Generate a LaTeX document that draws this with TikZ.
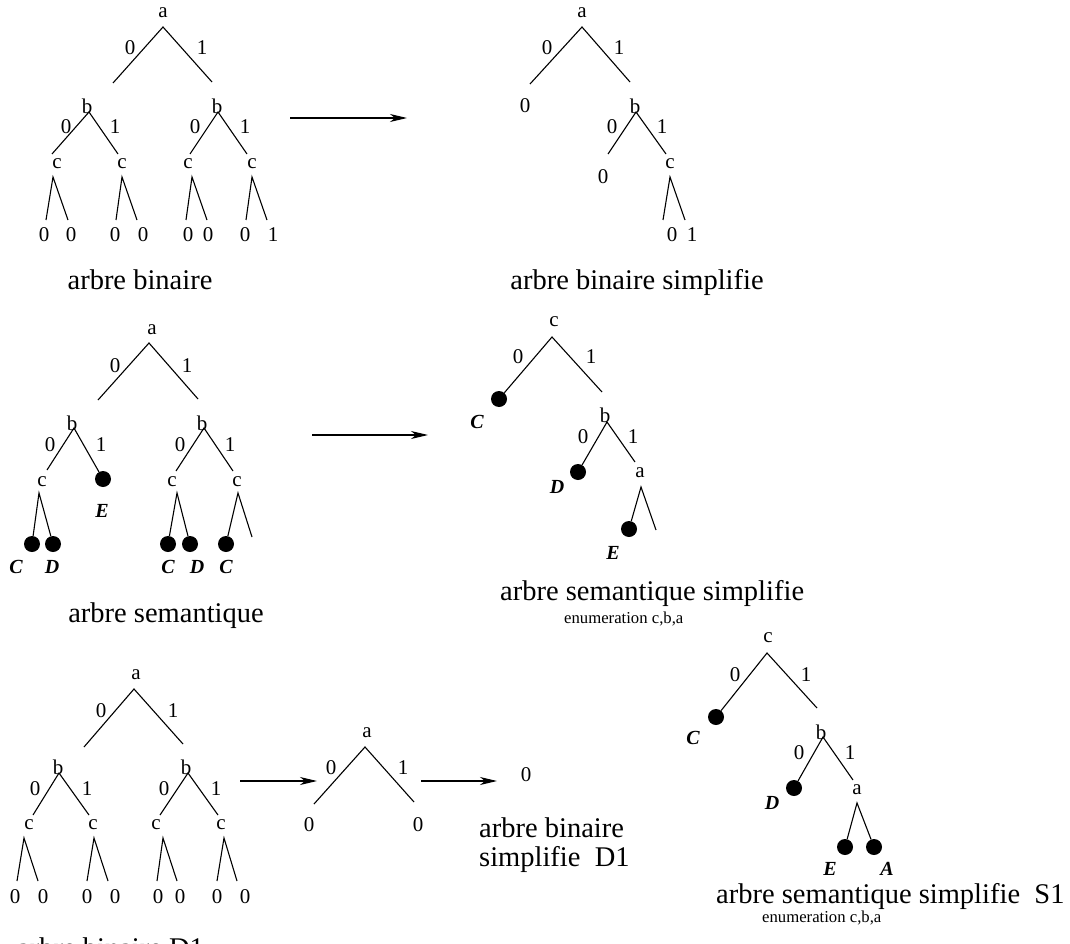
\documentclass[tikz,border=0pt]{standalone}
\usepackage{fontspec}
\setmainfont{Liberation Serif}
\usetikzlibrary{arrows.meta}
\tikzset{
  lbl/.style={inner sep=0pt,font=\fontsize{21}{24}\selectfont},
  captxt/.style={inner sep=0pt,font=\fontsize{28.5}{34}\selectfont},
  note/.style={inner sep=0pt,font=\fontsize{16.7}{20}\selectfont},
  atom/.style={inner sep=0pt,font=\fontsize{20}{22}\selectfont\bfseries\itshape},
  dot/.style={circle,fill=black,inner sep=0pt,minimum size=16pt},
  branch/.style={line width=1.1pt},
  arrow/.style={line width=1.1pt,-{Stealth[length=17pt,width=8pt,inset=5pt]}}
}

\begin{document}
\begin{tikzpicture}[x=1pt,y=-1pt]
	\useasboundingbox (0,0) rectangle (1070,944);
	
	% Tree 1 : arbre binaire
	\node[lbl] (t1a) at (163,13) {a};
	\coordinate (t1at) at (163,27);
	\coordinate (t1al) at (113,83);
	\coordinate (t1ar) at (212,82);
	\draw[branch] (t1al) -- (t1at) -- (t1ar);
	\node[lbl] (t1az) at (130,48) {0};
	\node[lbl] (t1ao) at (202,48) {1};
	\foreach \i/\x/\px/\lx/\rx/\zx/\ox in {1/87/89/52/118/66/115, 2/217/218/190/247/195/245}{
		\node[lbl] (t1b\i) at (\x,106) {b};
		\coordinate (t1bt\i) at (\px,112);
		\coordinate (t1bl\i) at (\lx,154);
		\coordinate (t1br\i) at (\rx,154);
		\draw[branch] (t1bl\i) -- (t1bt\i) -- (t1br\i);
		\node[lbl] (t1bz\i) at (\zx,127) {0};
		\node[lbl] (t1bo\i) at (\ox,127) {1};
	}
	\foreach \i/\x/\px/\lx/\rx in {1/57/53/46/68, 2/122/122/116/137, 3/188/192/186/207, 4/252/252/246/267}{
		\node[lbl] (t1c\i) at (\x,164) {c};
		\coordinate (t1ct\i) at (\px,177);
		\coordinate (t1cl\i) at (\lx,220);
		\coordinate (t1cr\i) at (\rx,220);
		\draw[branch] (t1cl\i) -- (t1ct\i) -- (t1cr\i);
	}
	\foreach \i/\x/\t in {1/44/0, 2/71/0, 3/115/0, 4/143/0, 5/188/0, 6/208/0, 7/245/0, 8/273/1}
		\node[lbl] (t1f\i) at (\x,235) {\t};
	\node[captxt,anchor=base] (t1cap) at (140,289) {arbre binaire};
	
	% Arrow 1
	\coordinate (ar1s) at (290,118);
	\coordinate (ar1e) at (407,118);
	\draw[arrow] (ar1s) -- (ar1e);
	
	% Tree 2 : arbre binaire simplifie
	\node[lbl] (t2a) at (582,13) {a};
	\coordinate (t2at) at (582,27);
	\coordinate (t2al) at (530,84);
	\coordinate (t2ar) at (630,82);
	\draw[branch] (t2al) -- (t2at) -- (t2ar);
	\node[lbl] (t2az) at (547,48) {0};
	\node[lbl] (t2ao) at (619,48) {1};
	\node[lbl] (t2f1) at (525,106) {0};
	\node[lbl] (t2b) at (635,106) {b};
	\coordinate (t2bt) at (636,112);
	\coordinate (t2bl) at (608,154);
	\coordinate (t2br) at (666,154);
	\draw[branch] (t2bl) -- (t2bt) -- (t2br);
	\node[lbl] (t2bz) at (612,127) {0};
	\node[lbl] (t2bo) at (662,127) {1};
	\node[lbl] (t2f2) at (603,177) {0};
	\node[lbl] (t2c) at (670,164) {c};
	\coordinate (t2ct) at (670,177);
	\coordinate (t2cl) at (663,220);
	\coordinate (t2cr) at (685,220);
	\draw[branch] (t2cl) -- (t2ct) -- (t2cr);
	\node[lbl] (t2f3) at (672,235) {0};
	\node[lbl] (t2f4) at (692,235) {1};
	\node[captxt,anchor=base] (t2cap) at (637,289) {arbre binaire simplifie};
	
	% Tree 3 : arbre semantique
	\node[lbl] (t3a) at (152,330) {a};
	\coordinate (t3at) at (149,343);
	\coordinate (t3al) at (98,400);
	\coordinate (t3ar) at (198,399);
	\draw[branch] (t3al) -- (t3at) -- (t3ar);
	\node[lbl] (t3az) at (115,366) {0};
	\node[lbl] (t3ao) at (187,366) {1};
	% left b
	\node[lbl] (t3b1) at (72,423) {b};
	\coordinate (t3bt1) at (74,428);
	\coordinate (t3bl1) at (47,470);
	\node[dot] (t3E) at (103,479) {};
	\draw[branch] (t3bl1) -- (t3bt1) -- (t3E);
	\node[lbl] (t3bz1) at (50,445) {0};
	\node[lbl] (t3bo1) at (101,445) {1};
	\node[atom] (t3Et) at (102,511) {E};
	% right b
	\node[lbl] (t3b2) at (202,423) {b};
	\coordinate (t3bt2) at (204,428);
	\coordinate (t3bl2) at (176,471);
	\coordinate (t3br2) at (233,471);
	\draw[branch] (t3bl2) -- (t3bt2) -- (t3br2);
	\node[lbl] (t3bz2) at (180,445) {0};
	\node[lbl] (t3bo2) at (230,445) {1};
	% c nodes and leaves
	\foreach \i/\x/\px in {1/42/39, 2/172/177, 3/237/238}{
		\node[lbl] (t3c\i) at (\x,482) {c};
		\coordinate (t3ct\i) at (\px,493);
	}
	\foreach \i/\x in {1/32, 2/53, 3/168, 4/190, 5/226}
		\node[dot] (t3d\i) at (\x,544) {};
	\coordinate (t3cr3) at (252,537);
	\draw[branch] (t3d1) -- (t3ct1) -- (t3d2);
	\draw[branch] (t3d3) -- (t3ct2) -- (t3d4);
	\draw[branch] (t3d5) -- (t3ct3) -- (t3cr3);
	\foreach \i/\x/\t in {1/16/C, 2/52/D, 3/168/C, 4/197/D, 5/226/C}
		\node[atom] (t3dt\i) at (\x,567) {\t};
	\node[captxt,anchor=base] (t3cap) at (166,622) {arbre semantique};
	
	% Arrow 2
	\coordinate (ar2s) at (312,435);
	\coordinate (ar2e) at (428,435);
	\draw[arrow] (ar2s) -- (ar2e);
	
	% Tree 4 : arbre semantique simplifie
	\node[lbl] (t4c) at (554,322) {c};
	\coordinate (t4ct) at (552,337);
	\node[dot] (t4C) at (499,399) {};
	\coordinate (t4cr) at (602,392);
	\draw[branch] (t4C) -- (t4ct) -- (t4cr);
	\node[lbl] (t4cz) at (518,357) {0};
	\node[lbl] (t4co) at (591,357) {1};
	\node[atom] (t4Ct) at (477,422) {C};
	\node[lbl] (t4b) at (605,415) {b};
	\coordinate (t4bt) at (607,422);
	\node[dot] (t4D) at (578,472) {};
	\coordinate (t4br) at (635,462);
	\draw[branch] (t4D) -- (t4bt) -- (t4br);
	\node[lbl] (t4bz) at (583,437) {0};
	\node[lbl] (t4bo) at (633,437) {1};
	\node[atom] (t4Dt) at (557,487) {D};
	\node[lbl] (t4a) at (640,473) {a};
	\coordinate (t4at) at (641,487);
	\node[dot] (t4E) at (629,529) {};
	\coordinate (t4ar) at (656,530);
	\draw[branch] (t4E) -- (t4at) -- (t4ar);
	\node[atom] (t4Et) at (613,553) {E};
	\node[captxt,anchor=base west] (t4cap) at (500,600) {arbre semantique simplifie};
	\node[note,anchor=base west] (t4enum) at (564,623) {enumeration c,b,a};
	
	% Tree 5 : arbre binaire D1
	\node[lbl] (t5a) at (136,675) {a};
	\coordinate (t5at) at (134,689);
	\coordinate (t5al) at (84,747);
	\coordinate (t5ar) at (183,744);
	\draw[branch] (t5al) -- (t5at) -- (t5ar);
	\node[lbl] (t5az) at (101,711) {0};
	\node[lbl] (t5ao) at (173,711) {1};
	\foreach \i/\x/\px/\lx/\rx/\zx/\ox in {1/58/59/33/89/35/87, 2/186/188/160/218/164/216}{
		\node[lbl] (t5b\i) at (\x,767) {b};
		\coordinate (t5bt\i) at (\px,773);
		\coordinate (t5bl\i) at (\lx,815);
		\coordinate (t5br\i) at (\rx,815);
		\draw[branch] (t5bl\i) -- (t5bt\i) -- (t5br\i);
		\node[lbl] (t5bz\i) at (\zx,789) {0};
		\node[lbl] (t5bo\i) at (\ox,789) {1};
	}
	\foreach \i/\x/\px/\lx/\rx in {1/29/24/17/38, 2/93/94/87/108, 3/156/163/157/177, 4/221/224/217/237}{
		\node[lbl] (t5c\i) at (\x,825) {c};
		\coordinate (t5ct\i) at (\px,838);
		\coordinate (t5cl\i) at (\lx,881);
		\coordinate (t5cr\i) at (\rx,881);
		\draw[branch] (t5cl\i) -- (t5ct\i) -- (t5cr\i);
	}
	\foreach \i/\x in {1/15, 2/43, 3/87, 4/115, 5/158, 6/180, 7/217, 8/245}
		\node[lbl] (t5f\i) at (\x,897) {0};
	\node[captxt,anchor=base west] (t5cap) at (17,957) {arbre binaire D1};
	
	% Arrow 3
	\coordinate (ar3s) at (240,781);
	\coordinate (ar3e) at (317,781);
	\draw[arrow] (ar3s) -- (ar3e);
	
	% Tree 6 : arbre binaire simplifie D1
	\node[lbl] (t6a) at (367,733) {a};
	\coordinate (t6at) at (365,747);
	\coordinate (t6al) at (314,804);
	\coordinate (t6ar) at (414,802);
	\draw[branch] (t6al) -- (t6at) -- (t6ar);
	\node[lbl] (t6az) at (331,768) {0};
	\node[lbl] (t6ao) at (403,768) {1};
	\node[lbl] (t6f1) at (309,825) {0};
	\node[lbl] (t6f2) at (418,825) {0};
	
	% Arrow 4
	\coordinate (ar4s) at (421,781);
	\coordinate (ar4e) at (497,781);
	\draw[arrow] (ar4s) -- (ar4e);
	\node[lbl] (t6r) at (526,775) {0};
	\node[captxt,anchor=base west] (t6cap1) at (479,837) {arbre binaire};
	\node[captxt,anchor=base west] (t6cap2) at (479,866) {simplifie\ \ D1};
	
	% Tree 7 : arbre semantique simplifie S1
	\node[lbl] (t7c) at (768,638) {c};
	\coordinate (t7ct) at (767,653);
	\node[dot] (t7C) at (716,717) {};
	\coordinate (t7cr) at (817,708);
	\draw[branch] (t7C) -- (t7ct) -- (t7cr);
	\node[lbl] (t7cz) at (735,675) {0};
	\node[lbl] (t7co) at (806,675) {1};
	\node[atom] (t7Ct) at (693,738) {C};
	\node[lbl] (t7b) at (821,732) {b};
	\coordinate (t7bt) at (823,737);
	\node[dot] (t7D) at (794,788) {};
	\coordinate (t7br) at (853,780);
	\draw[branch] (t7D) -- (t7bt) -- (t7br);
	\node[lbl] (t7bz) at (799,753) {0};
	\node[lbl] (t7bo) at (850,753) {1};
	\node[atom] (t7Dt) at (772,803) {D};
	\node[lbl] (t7a) at (857,790) {a};
	\coordinate (t7at) at (857,803);
	\node[dot] (t7E) at (845,847) {};
	\node[dot] (t7A) at (874,847) {};
	\draw[branch] (t7E) -- (t7at) -- (t7A);
	\node[atom] (t7Et) at (830,869) {E};
	\node[atom] (t7At) at (887,869) {A};
	\node[captxt,anchor=base west] (t7cap) at (716,903) {arbre semantique simplifie\ \ S1};
	\node[note,anchor=base west] (t7enum) at (762,922) {enumeration c,b,a};
\end{tikzpicture}
\end{document}
